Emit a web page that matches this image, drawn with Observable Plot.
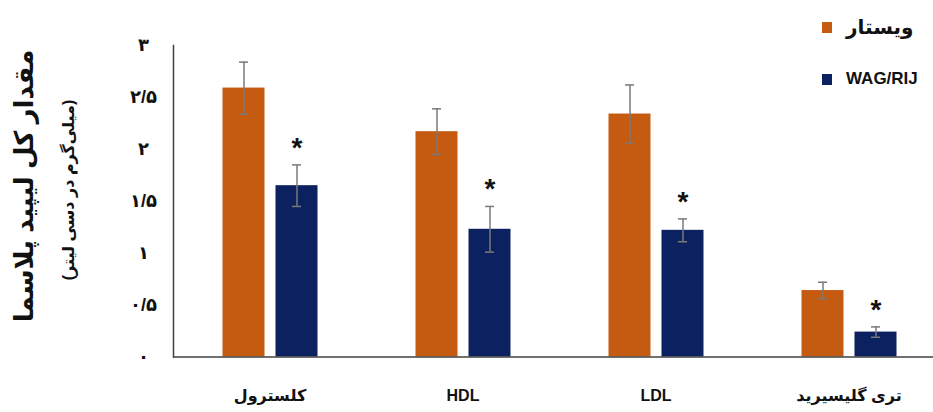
<!DOCTYPE html>
<html><head><meta charset="utf-8">
<script src="https://cdn.jsdelivr.net/npm/d3@7"></script>
<script src="https://cdn.jsdelivr.net/npm/@observablehq/plot@0.6"></script>
<style>
body{margin:0;background:#fff;}
#wrap{position:relative;width:933px;height:412px;font-family:"Liberation Sans","DejaVu Sans",sans-serif;overflow:hidden;}
#wrap svg{position:absolute;left:0;top:0;}
.rot{position:absolute;white-space:nowrap;direction:rtl;font-weight:bold;color:#111;transform:translate(-50%,-50%) rotate(-90deg);}
.leg{position:absolute;display:flex;align-items:center;font-weight:bold;color:#111;white-space:nowrap;}
.sw{display:inline-block;width:10px;height:11px;margin-right:14px;}
</style></head><body><div id="wrap"></div>
<script>
const categories = ["کلسترول", "HDL", "LDL", "تری گلیسیرید"];
const series = ["ویستار", "WAG/RIJ"];
const wistar = [2.59, 2.17, 2.34, 0.64];
const wistarErr = [0.25, 0.22, 0.28, 0.08];
const wag = [1.65, 1.23, 1.22, 0.24];
const wagErr = [0.2, 0.22, 0.11, 0.05];
const significant = [true, true, true, true];
const yTicks = [0, 0.5, 1, 1.5, 2, 2.5, 3];
const yTickLabels = ["۰", "۰/۵", "۱", "۱/۵", "۲", "۲/۵", "۳"];
const colors = ["#C55A11", "#0C2260"];
const yTitle = "مقدار کل لیپید پلاسما";
const ySubtitle = "(میلی‌گرم در دسی لیتر)";

const rows = [];
categories.forEach((c, i) => {
  rows.push({category: c, series: series[0], value: wistar[i], err: wistarErr[i], sig: false});
  rows.push({category: c, series: series[1], value: wag[i], err: wagErr[i], sig: significant[i]});
});

const font = "'Liberation Sans','DejaVu Sans',sans-serif";
const chart = Plot.plot({
  width: 933, height: 412,
  marginTop: 45, marginBottom: 55.5, marginLeft: 172.5, marginRight: 0,
  style: {fontFamily: font, background: "transparent", color: "#111"},
  fx: {domain: categories, range: [172.5, 944.5], padding: 0, label: null},
  x: {domain: series, paddingInner: 0.21, paddingOuter: 0.91, axis: null},
  y: {domain: [0, 3], axis: null},
  color: {domain: series, range: colors},
  marks: [
    Plot.barY(rows, {fx: "category", x: "series", y: "value", fill: "series"}),
    Plot.ruleX(rows, {fx: "category", x: "series", y1: d => d.value - d.err, y2: d => d.value + d.err, stroke: "#7a7a7a", strokeWidth: 1.5}),
    Plot.tickY(rows, {fx: "category", x: "series", y: d => d.value + d.err, insetLeft: 16.5, insetRight: 16.5, stroke: "#7a7a7a", strokeWidth: 1.5}),
    Plot.tickY(rows, {fx: "category", x: "series", y: d => d.value - d.err, insetLeft: 16.5, insetRight: 16.5, stroke: "#7a7a7a", strokeWidth: 1.5}),
    Plot.text(rows.filter(d => d.sig), {fx: "category", x: "series", y: d => d.value + d.err, text: () => "*", dy: -17, fontSize: 28, fontWeight: "bold", fill: "#111"}),
    Plot.ruleY([0], {stroke: "#404040", strokeWidth: 1.5}),
    Plot.frame({anchor: "left", facetAnchor: "left", stroke: "#404040", strokeWidth: 1.5}),
    Plot.axisY({ticks: yTicks, tickFormat: d => yTickLabels[yTicks.indexOf(d)], tickSize: 0, tickPadding: 30, textAnchor: "middle", fontSize: 18, fontWeight: "bold", label: null}),
    Plot.axisFx({anchor: "bottom", tickSize: 0, tickPadding: 33, fontSize: 16, fontWeight: "bold", label: null})
  ]
});
const wrap = document.getElementById("wrap");
wrap.appendChild(chart);

function addRot(text, x, y, size) {
  const d = document.createElement("div");
  d.className = "rot"; d.textContent = text;
  d.style.left = x + "px"; d.style.top = y + "px"; d.style.fontSize = size + "px";
  wrap.appendChild(d);
}
addRot(yTitle, 24, 186, 26);
addRot(ySubtitle, 68, 190, 16);

function addLeg(i, x, y, size) {
  const d = document.createElement("div");
  d.className = "leg";
  d.style.left = x + "px"; d.style.top = y + "px"; d.style.fontSize = size + "px";
  const s = document.createElement("span"); s.className = "sw"; s.style.background = colors[i];
  const t = document.createElement("span"); t.textContent = series[i];
  d.appendChild(s); d.appendChild(t);
  wrap.appendChild(d);
}
addLeg(0, 822, 15, 20);
addLeg(1, 822, 69, 17);
</script></body></html>
